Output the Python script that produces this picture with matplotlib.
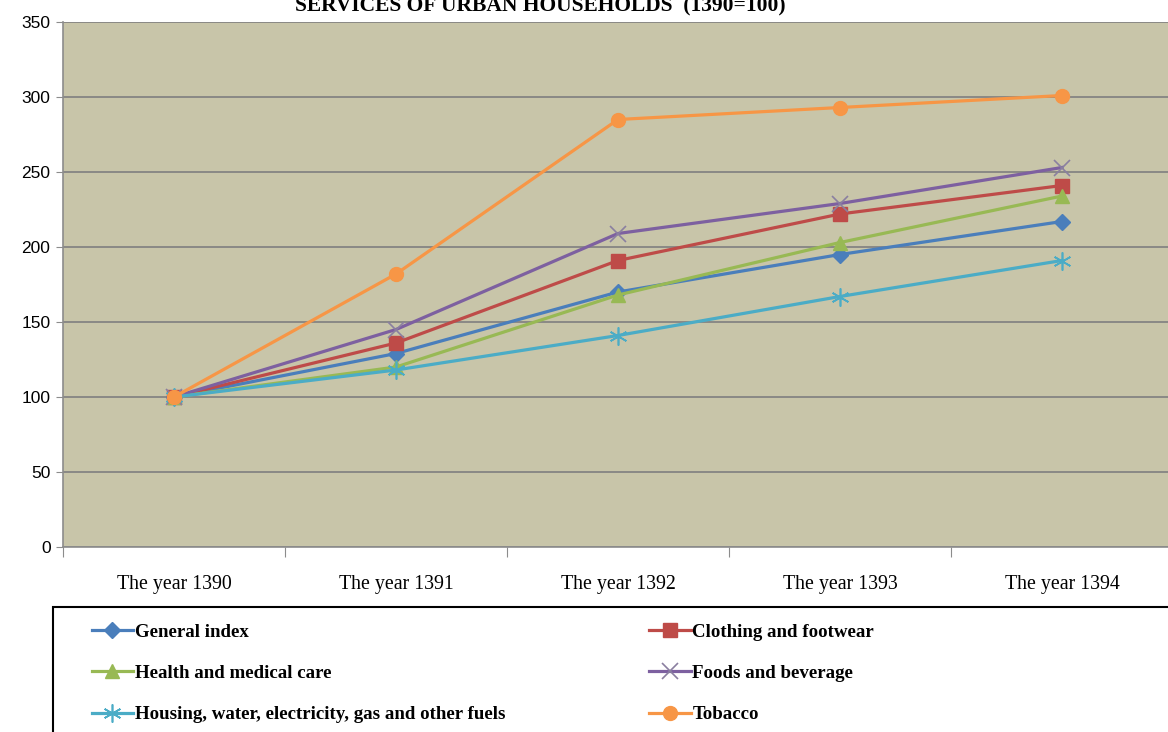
import matplotlib
matplotlib.use('Agg')
import matplotlib.pyplot as plt
from matplotlib.patches import Rectangle

# index values (1390 = 100)
years = ["The year 1390", "The year 1391", "The year 1392", "The year 1393", "The year 1394"]
general = [100, 129, 170, 195, 217]
clothing = [100, 136, 191, 222, 241]
health = [100, 120, 168, 203, 234]
foods = [100, 145, 209, 229, 253]
housing = [100, 118, 141, 167, 191]
tobacco = [100, 182, 285, 293, 301]

names = ["General index", "Clothing and footwear", "Health and medical care",
         "Foods and beverage", "Housing, water, electricity, gas and other fuels", "Tobacco"]
series = [general, clothing, health, foods, housing, tobacco]
colors = ["#4A7EBB", "#BE4B48", "#98B954", "#7D60A0", "#4BACC6", "#F79646"]
markers = ["D", "s", "^", "x", (6, 2, 0), "o"]
msizes = [8, 10, 10, 11, 13, 10]

W, H = 1168, 732
fig = plt.figure(figsize=(W / 100, H / 100), dpi=100)
ax = fig.add_axes([63 / W, 1 - 547 / H, 1110 / W, 525 / H])
ax.set_facecolor("#C8C5A9")

x = list(range(len(years)))
lines = []
for vals, nm, c, m, ms in zip(series, names, colors, markers, msizes):
	mec = c
	if m == "x":
		mec = "#8A7FA0"
	ln, = ax.plot(x, vals, color=c, lw=2.3, marker=m, markersize=ms,
		markerfacecolor=c, markeredgecolor=mec, markeredgewidth=1.2 if m in ("x", (6, 2, 0)) else 1,
		label=nm, solid_joinstyle="round")
	lines.append(ln)

ax.set_xlim(-0.5, 4.5)
ax.set_ylim(0, 350)
ax.set_yticks(range(0, 351, 50))
ax.yaxis.grid(True, color="#7F7F7F", lw=1.2)
ax.set_axisbelow(True)
for s in ["top", "right"]:
	ax.spines[s].set_visible(False)
for s in ["left", "bottom"]:
	ax.spines[s].set_color("#8C8C8C")
	ax.spines[s].set_linewidth(1.2)

# boundaries as major ticks, category names as minor ticks
ax.set_xticks([i - 0.5 for i in range(len(years))] + [4.5])
ax.set_xticklabels([])
ax.set_xticks(x, minor=True)
ax.set_xticklabels(years, minor=True, fontfamily="Liberation Serif", fontsize=14.3)
ax.tick_params(axis="x", which="major", direction="out", length=7, color="#8C8C8C")
ax.tick_params(axis="x", which="minor", length=0, pad=20)
ax.tick_params(axis="y", direction="out", length=5, color="#8C8C8C", pad=4)
for lab in ax.get_yticklabels():
	lab.set_fontfamily("Liberation Sans")
	lab.set_fontsize(12.5)

# title sits mostly above the image edge
fig.text(540 / W, 1 - 11 / H, "SERVICES OF URBAN HOUSEHOLDS  (1390=100)", ha="center", va="baseline",
	fontfamily="Liberation Serif", fontweight="bold", fontsize=15.5)

# legend box, cut by the image edges
fig.patches.append(Rectangle((53 / W, -0.05), 1.2, 0.05 + (1 - 607 / H), transform=fig.transFigure,
	fill=False, edgecolor="black", lw=1.5))
order = [0, 2, 4, 1, 3, 5]
leg = fig.legend([lines[i] for i in order], [names[i] for i in order], ncol=2, frameon=False,
	loc="upper left", bbox_to_anchor=(84 / W, 1 - 616 / H),
	prop={"family": "Liberation Serif", "weight": "bold", "size": 13.6},
	handlelength=2.2, handletextpad=0.1, columnspacing=7.6, labelspacing=1.27, borderaxespad=0)

fig.savefig("out.png", dpi=100)
